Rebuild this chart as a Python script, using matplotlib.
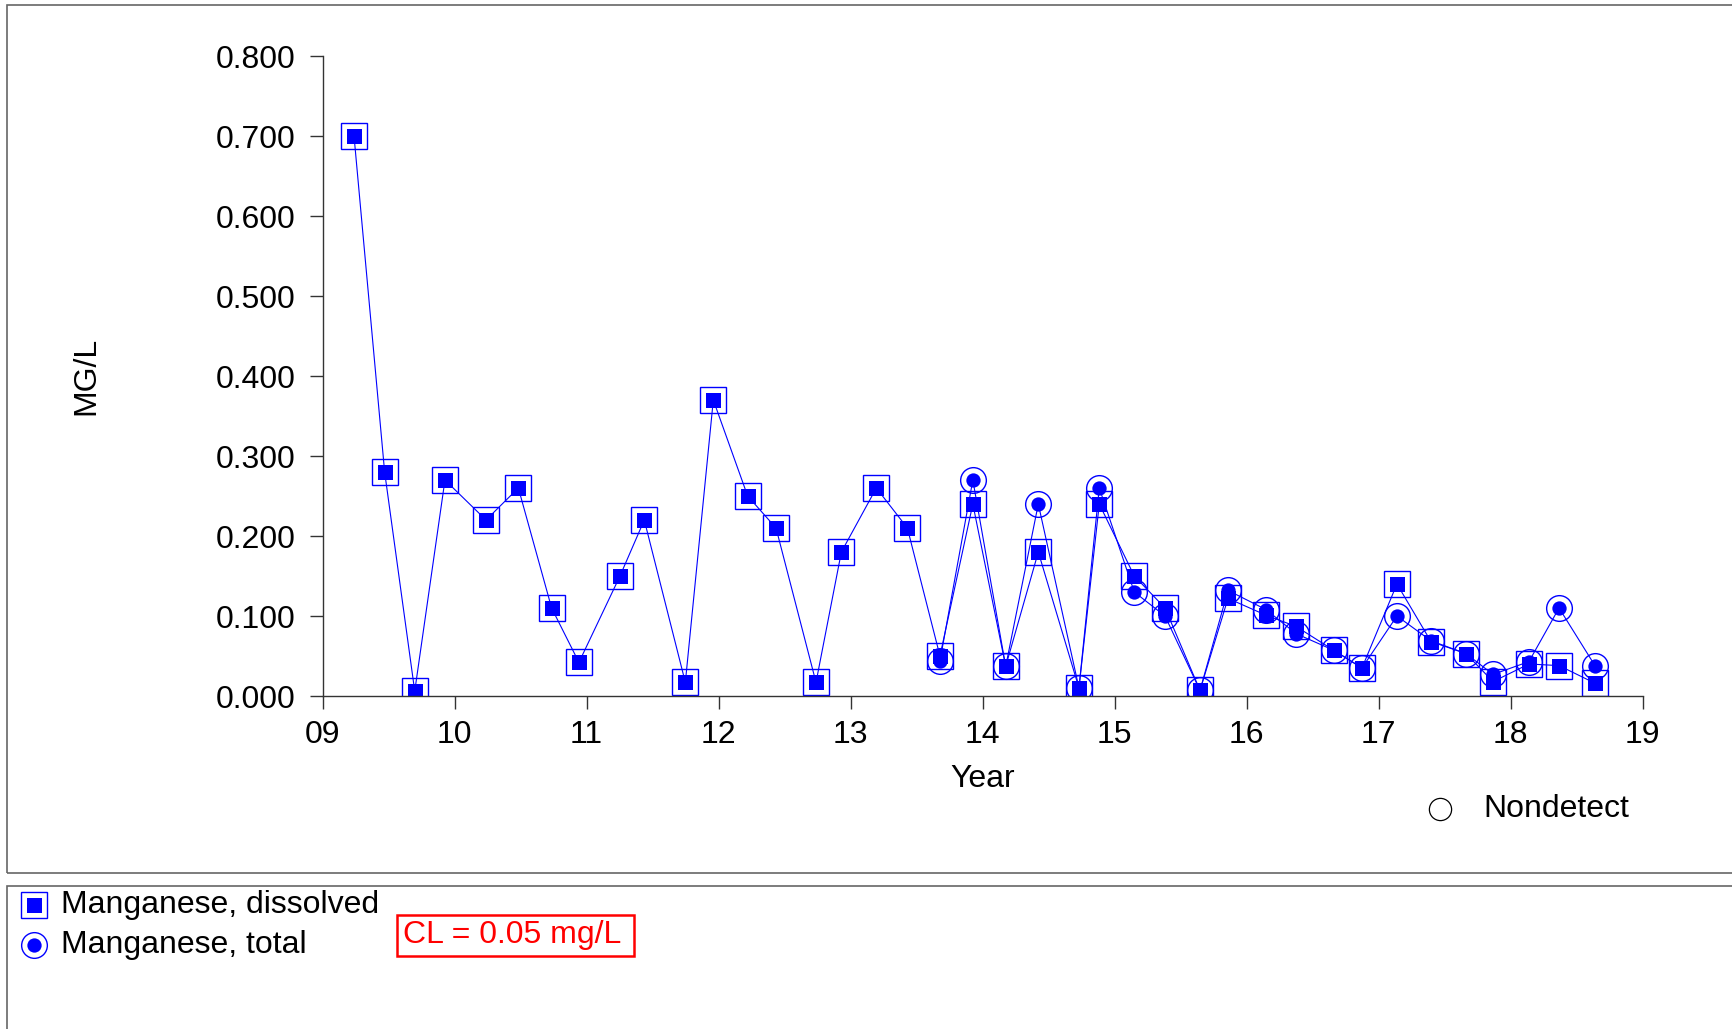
import numpy as np
import matplotlib.pyplot as plt
from matplotlib.patches import Rectangle
from matplotlib.lines import Line2D

plt.rcParams['font.family'] = ['Liberation Sans', 'DejaVu Sans']

#sample dates (decimal years) and results, mg/L
dissolved_year = [2009.238, 2009.470, 2009.698, 2009.927, 2010.238, 2010.483, 2010.735,
                  2010.942, 2011.253, 2011.437, 2011.748, 2011.960, 2012.220, 2012.435,
                  2012.738, 2012.930, 2013.195, 2013.430, 2013.677, 2013.926, 2014.175,
                  2014.422, 2014.730, 2014.884, 2015.149, 2015.382, 2015.647, 2015.859,
                  2016.147, 2016.374, 2016.662, 2016.874, 2017.139, 2017.397, 2017.662,
                  2017.867, 2018.139, 2018.367, 2018.639]
dissolved_mn = [0.700, 0.280, 0.006, 0.270, 0.220, 0.260, 0.110,
                0.042, 0.150, 0.220, 0.017, 0.370, 0.250, 0.210,
                0.017, 0.180, 0.260, 0.210, 0.050, 0.240, 0.037,
                0.180, 0.010, 0.240, 0.150, 0.110, 0.007, 0.122,
                0.101, 0.087, 0.057, 0.035, 0.140, 0.068, 0.053,
                0.018, 0.040, 0.038, 0.016]

total_year = [2013.677, 2013.926, 2014.175, 2014.422, 2014.730, 2014.884, 2015.149,
              2015.382, 2015.647, 2015.859, 2016.147, 2016.374, 2016.662, 2016.874,
              2017.139, 2017.397, 2017.662, 2017.867, 2018.139, 2018.367, 2018.639]
total_mn = [0.044, 0.270, 0.037, 0.240, 0.010, 0.260, 0.130,
            0.100, 0.007, 0.132, 0.108, 0.078, 0.057, 0.035,
            0.100, 0.069, 0.053, 0.027, 0.043, 0.110, 0.038]

year_ticks = [2009, 2010, 2011, 2012, 2013, 2014, 2015, 2016, 2017, 2018, 2019]
year_labels = ['09', '10', '11', '12', '13', '14', '15', '16', '17', '18', '19']
mg_ticks = [0.0, 0.1, 0.2, 0.3, 0.4, 0.5, 0.6, 0.7, 0.8]

W, H = 1732, 1029
fs = 23
blue = '#0000ff'

fig = plt.figure(figsize=(W / 100, H / 100), dpi=100)

#panel frames (pixel coords -> figure fraction)
def px_rect(x0, y0, x1, y1, **kw):
    r = Rectangle((x0 / W, 1 - y1 / H), (x1 - x0) / W, (y1 - y0) / H,
                  transform=fig.transFigure, fill=False, **kw)
    fig.add_artist(r)
    return r

px_rect(7, 5, W + 20, 873, ec='#666666', lw=1.2)
px_rect(7, 886, W + 20, H + 20, ec='#666666', lw=1.2)

ax = fig.add_axes([322.6 / W, 1 - 696 / H, 1320 / W, 640 / H])

#total first, dissolved drawn on top
for xs, ys, m, inner in [(total_year, total_mn, 'o', 10.3), (dissolved_year, dissolved_mn, 's', 10.8)]:
    ax.plot(xs, ys, color=blue, lw=0.8)
    ax.plot(xs, ys, ls='none', marker=m, ms=18.5, mfc='none', mec=blue, mew=1.0)
    ax.plot(xs, ys, ls='none', marker=m, ms=inner, mfc=blue, mec=blue, mew=0)

ax.set_xlim(2009, 2019)
ax.set_ylim(0, 0.8)
ax.set_xticks(year_ticks)
ax.set_xticklabels(year_labels)
ax.set_yticks(mg_ticks)
ax.set_yticklabels(['%.3f' % v for v in mg_ticks])
ax.tick_params(labelsize=fs, length=9.5, width=1, color='#333333')
ax.tick_params(axis='y', pad=10)
ax.tick_params(axis='x', pad=8)
for s in ['top', 'right']:
    ax.spines[s].set_visible(False)
for s in ['left', 'bottom']:
    ax.spines[s].set_color('#333333')
    ax.spines[s].set_linewidth(1)
ax.patch.set_alpha(0)

ax.set_xlabel('Year', fontsize=fs)
ax.xaxis.set_label_coords(0.5, -0.13)
ax.xaxis.label.set_va('center')
ax.set_ylabel('MG/L', fontsize=fs)
ax.yaxis.set_label_coords(-0.179, 0.5)
ax.yaxis.label.set_va('center')

#nondetect key
fig.add_artist(Line2D([1440 / W], [1 - 808.6 / H], transform=fig.transFigure, marker='o',
                      ms=16, mfc='none', mec='black', mew=0.9, ls='none'))
fig.text(1483.5 / W, 1 - 808.6 / H, 'Nondetect', fontsize=fs, va='center', ha='left')

#legend in bottom panel
for yy, m, inner, label in [(904.5, 's', 10.8, 'Manganese, dissolved'), (945, 'o', 10.3, 'Manganese, total')]:
    fig.add_artist(Line2D([34 / W], [1 - yy / H], transform=fig.transFigure, marker=m,
                          ms=18.5, mfc='none', mec=blue, mew=1.0, ls='none'))
    fig.add_artist(Line2D([34 / W], [1 - yy / H], transform=fig.transFigure, marker=m,
                          ms=inner, mfc=blue, mec=blue, mew=0, ls='none'))
    fig.text(61 / W, 1 - yy / H, label, fontsize=fs, va='center', ha='left')

#CL box
px_rect(396.5, 914.6, 634, 955.5, ec='red', lw=1.8)
fig.text(512 / W, 1 - 935 / H, 'CL = 0.05 mg/L', fontsize=fs, color='red', va='center', ha='center')

plt.savefig('out.png', dpi=100)
